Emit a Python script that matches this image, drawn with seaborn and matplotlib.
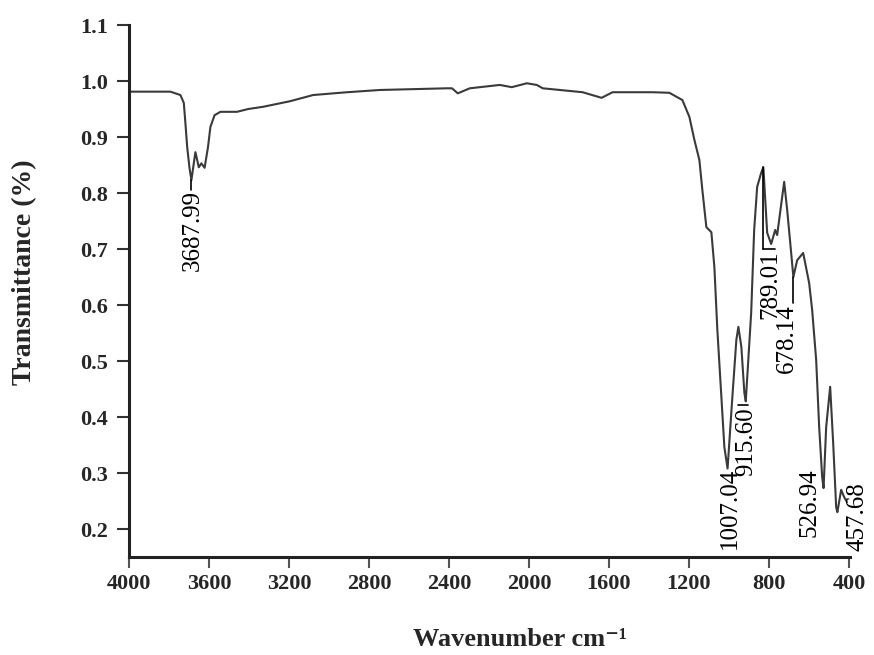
import matplotlib
matplotlib.use("Agg")
import matplotlib.pyplot as plt
import seaborn as sns

sns.set_style("ticks")
plt.rcParams['font.family'] = ['Liberation Serif', 'DejaVu Serif']

# FTIR spectrum
wavenumber = [4000, 3793, 3743, 3726, 3718, 3709, 3698, 3688, 3668, 3651, 3638, 3622,
              3605, 3593, 3572, 3543, 3460, 3404, 3329, 3194, 3079, 2909, 2745, 2410,
              2385, 2356, 2296, 2146, 2086, 2011, 1961, 1931, 1732, 1637, 1582, 1447,
              1383, 1298, 1233, 1198, 1173, 1148, 1133, 1113, 1088, 1073, 1058, 1038,
              1023, 1007, 983, 963, 953, 938, 923, 916, 889, 874, 859, 839, 828,
              819, 809, 789, 769, 759, 724, 709, 689, 678, 659, 629, 599, 584,
              564, 549, 534, 527, 514, 494, 479, 464, 458, 439, 424, 410]
transmittance = [0.981, 0.981, 0.975, 0.961, 0.925, 0.882, 0.846, 0.823, 0.873, 0.846, 0.853, 0.845,
                 0.882, 0.918, 0.939, 0.945, 0.945, 0.950, 0.954, 0.964, 0.975, 0.980, 0.984, 0.987,
                 0.987, 0.978, 0.987, 0.993, 0.989, 0.996, 0.993, 0.987, 0.980, 0.970, 0.980, 0.980,
                 0.980, 0.979, 0.966, 0.936, 0.895, 0.859, 0.805, 0.739, 0.730, 0.668, 0.555, 0.436,
                 0.346, 0.308, 0.436, 0.538, 0.561, 0.525, 0.443, 0.428, 0.586, 0.734, 0.811, 0.836, 0.846,
                 0.790, 0.729, 0.709, 0.734, 0.725, 0.820, 0.770, 0.693, 0.650, 0.680, 0.693, 0.639, 0.591,
                 0.502, 0.382, 0.293, 0.273, 0.382, 0.454, 0.354, 0.239, 0.230, 0.270, 0.257, 0.248]

peak_labels = ['3687.99', '1007.04', '915.60', '789.01', '678.14', '526.94', '457.68']
x_ticks = [4000, 3600, 3200, 2800, 2400, 2000, 1600, 1200, 800, 400]
y_ticks = [0.2, 0.3, 0.4, 0.5, 0.6, 0.7, 0.8, 0.9, 1.0, 1.1]

fig = plt.figure(figsize=(8.74, 6.55), dpi=100)
ax = fig.add_axes([0.1476, 0.1496, 0.8249, 0.8122])

sns.lineplot(x=wavenumber, y=transmittance, ax=ax, color='#3a3a3a', linewidth=1.5,
             estimator=None, sort=False)
ax.lines[0].set_solid_joinstyle('round')

ax.set_xlim(4000, 395)
ax.set_ylim(0.15, 1.1)
sns.despine(ax=ax)
for side in ['left', 'bottom']:
    ax.spines[side].set_linewidth(2.2)
    ax.spines[side].set_color('#222222')

ax.set_xticks(x_ticks)
ax.set_xticklabels([str(t) for t in x_ticks], fontweight='bold', fontsize=16)
ax.set_yticks(y_ticks)
ax.set_yticklabels(['{:.1f}'.format(t) for t in y_ticks], fontweight='bold', fontsize=16)
ax.tick_params(axis='y', direction='out', length=9, width=1.5, pad=6, color='#333333')
ax.tick_params(axis='x', direction='out', length=8, width=1.5, pad=4, color='#555555')

# peak annotations (marker lines + rotated numbers)
ann_kw = dict(rotation=90, ha='center', va='top', fontsize=18, color='black', clip_on=False)
line_kw = dict(color='black', linewidth=1.2)

ax.plot([3688, 3688], [0.823, 0.805], **line_kw)
ax.text(3680, 0.805, peak_labels[0], **ann_kw)

ax.text(998, 0.309, peak_labels[1], **ann_kw)

ax.plot([955, 905], [0.421, 0.421], **line_kw)
ax.text(914, 0.417, peak_labels[2], **ann_kw)

ax.plot([828, 828], [0.846, 0.700], **line_kw)
ax.plot([828, 770], [0.700, 0.700], **line_kw)
ax.text(794, 0.697, peak_labels[3], **ann_kw)

ax.plot([679, 679], [0.650, 0.604], **line_kw)
ax.text(708, 0.602, peak_labels[4], **ann_kw)

ax.text(599, 0.309, peak_labels[5], **ann_kw)
ax.text(355, 0.284, peak_labels[6], **ann_kw)

fig.text(25 / 874, 1 - 272 / 655, 'Transmittance (%)', rotation=90, ha='center', va='center',
         fontsize=20, fontweight='bold')
fig.text(520 / 874, 1 - 640 / 655, 'Wavenumber cm\u207b\u00b9', ha='center', va='center',
         fontsize=19, fontweight='bold')

fig.savefig('out.png', dpi=100)
